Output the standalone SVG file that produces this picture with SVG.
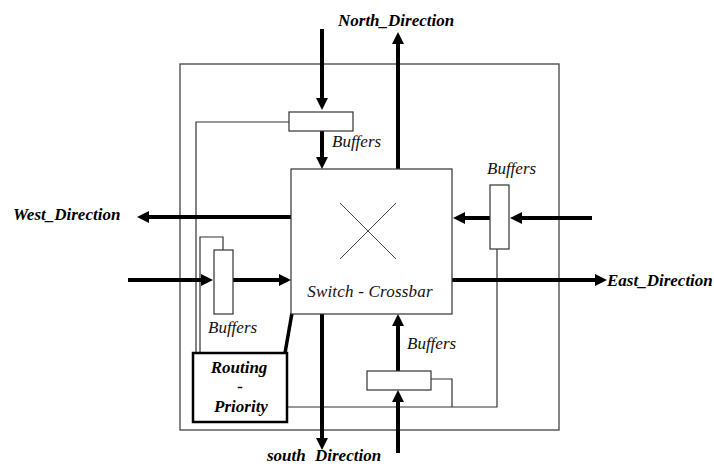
<svg xmlns="http://www.w3.org/2000/svg" width="714" height="466" viewBox="0 0 714 466">
<style>
.thin{fill:none;stroke:#333;stroke-width:1.2}
.box{fill:#fff;stroke:#333;stroke-width:1.2}
.arr{fill:none;stroke:#000;stroke-width:4;marker-end:url(#ah)}
.lbl{font-family:"Liberation Serif",serif;font-style:italic;font-size:17px;fill:#111}
.dir{font-family:"Liberation Serif",serif;font-style:italic;font-weight:bold;font-size:17px;fill:#000}
</style>
<defs>
<marker id="ah" markerUnits="userSpaceOnUse" markerWidth="12" markerHeight="12" refX="2" refY="6" orient="auto">
<path d="M0,0 L12,6 L0,12 z" fill="#000"/>
</marker>
</defs>
<rect width="714" height="466" fill="#fff"/>
<g id="router">
<rect x="180" y="64" width="379" height="366" fill="none" stroke="#444" stroke-width="1.3"/>
</g>
<g id="connectors">
<polyline class="thin" points="289,122 196,122 196,353"/>
<polyline class="thin" points="223,250 223,237 200,237 200,353"/>
<polyline class="thin" points="497,249 497,407 287,407"/>
<polyline class="thin" points="431,379 452,379 452,407"/>
<line x1="292" y1="313" x2="285" y2="353" stroke="#000" stroke-width="3.5"/>
<line class="arr" x1="322" y1="29" x2="322" y2="100"/>
<line class="arr" x1="322" y1="131" x2="322" y2="159"/>
<line class="arr" x1="398" y1="169" x2="398" y2="42"/>
<line class="arr" x1="291" y1="217" x2="147" y2="217"/>
<line class="arr" x1="128" y1="280" x2="203" y2="280"/>
<line class="arr" x1="233" y1="280" x2="281" y2="280"/>
<line class="arr" x1="592" y1="218" x2="520" y2="218"/>
<line class="arr" x1="490" y1="218" x2="463" y2="218"/>
<line class="arr" x1="452" y1="280" x2="597" y2="280"/>
<line class="arr" x1="322" y1="314" x2="322" y2="440"/>
<line class="arr" x1="398" y1="453" x2="398" y2="400"/>
<line class="arr" x1="398" y1="371" x2="398" y2="324"/>
</g>
<g id="crossbar">
<rect class="box" x="291" y="169" width="161" height="145"/>
<line x1="340" y1="203" x2="396" y2="259" stroke="#444" stroke-width="1"/>
<line x1="396" y1="203" x2="340" y2="259" stroke="#444" stroke-width="1"/>
<text class="lbl" x="370" y="297" text-anchor="middle" letter-spacing="0.2">Switch - Crossbar</text>
</g>
<g id="north-buffer">
<rect class="box" x="289" y="112" width="64" height="19"/>
<text class="lbl" x="332" y="147">Buffers</text>
</g>
<g id="west-buffer">
<rect class="box" x="214" y="250" width="19" height="64"/>
<text class="lbl" x="208" y="333">Buffers</text>
</g>
<g id="east-buffer">
<rect class="box" x="490" y="185" width="19" height="64"/>
<text class="lbl" x="487" y="174">Buffers</text>
</g>
<g id="south-buffer">
<rect class="box" x="367" y="371" width="64" height="19"/>
<text class="lbl" x="407" y="349">Buffers</text>
</g>
<g id="routing">
<rect x="193" y="353" width="94" height="69" fill="#fff" stroke="#000" stroke-width="2.5"/>
<text class="dir" x="239" y="373" text-anchor="middle">Routing</text>
<text class="dir" x="240" y="392" text-anchor="middle">-</text>
<text class="dir" x="241" y="412" text-anchor="middle">Priority</text>
</g>
<g id="labels">
<text class="dir" x="338" y="26">North_Direction</text>
<text class="dir" x="13" y="220">West_Direction</text>
<text class="dir" x="607" y="286">East_Direction</text>
<text class="dir" x="267" y="461" word-spacing="5">south Direction</text>
</g>
</svg>
